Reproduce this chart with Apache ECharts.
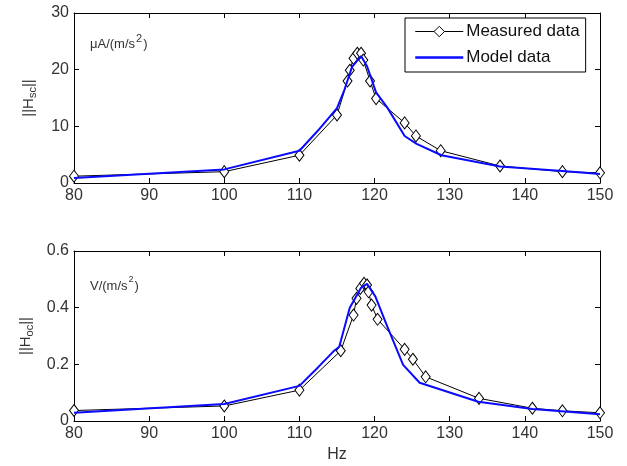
<!DOCTYPE html>
<html><head><meta charset="utf-8">
<script src="https://cdn.jsdelivr.net/npm/echarts@6/dist/echarts.min.js"></script>
<style>html,body{margin:0;padding:0;background:#fff}#c{width:627px;height:466px}</style>
</head><body><div id="c"></div>
<script>
// ---- data ----
const xTicks = [80, 90, 100, 110, 120, 130, 140, 150];
const topYTicks = [0, 10, 20, 30];
const botYTicks = [0, 0.2, 0.4, 0.6];

const hzMeasTop = [80, 100, 110, 115, 116.4, 116.7, 117.2, 117.7, 118.2, 118.5, 119.4, 120.2, 124, 125.5, 128.8, 136.7, 145, 150];
const measTop   = [1.2, 2.0, 4.9, 12.0, 18.0, 19.9, 22.0, 22.9, 22.9, 21.7, 18.0, 14.9, 10.6, 8.3, 5.7, 3.0, 2.0, 1.8];
const hzModelTop = [80, 100, 110, 112.5, 115, 116, 117, 118.2, 119, 120.2, 121.7, 124, 125.6, 128.9, 136.7, 145, 150];
const modelTop   = [0.9, 2.4, 5.7, 9.3, 13.2, 16.5, 20.5, 22.4, 20.6, 16.0, 13.3, 8.3, 6.9, 4.9, 2.9, 2.1, 1.6];

const hzMeasBot = [80, 100, 110, 115.5, 117.2, 117.6, 118.1, 118.6, 119.0, 119.2, 119.6, 120.4, 124.0, 125.1, 126.8, 133.9, 141.0, 145.0, 150];
const measBot   = [0.037, 0.053, 0.109, 0.248, 0.374, 0.433, 0.468, 0.486, 0.48, 0.456, 0.409, 0.359, 0.253, 0.218, 0.156, 0.080, 0.045, 0.036, 0.029];
const hzModelBot = [80, 100, 110, 112.5, 114.5, 115.3, 116.7, 118.2, 119.0, 120.1, 121.7, 123.8, 126.0, 133.8, 141, 150];
const modelBot   = [0.029, 0.060, 0.124, 0.19, 0.245, 0.262, 0.40, 0.47, 0.484, 0.44, 0.333, 0.198, 0.135, 0.068, 0.042, 0.024];

const zip = (a, b) => a.map((v, i) => [v, b[i]]);

const font = 'Liberation Sans, Arial, sans-serif';
const lblColor = '#333';
const lineStyle = { color: '#000', width: 1 };

function xAx(grid, pos, showLabel, name) {
  return {
    type: 'value', gridIndex: grid, position: pos, min: xTicks[0], max: xTicks[xTicks.length - 1], interval: 10,
    axisLine: { show: true, onZero: false, lineStyle },
    axisTick: { show: true, inside: true, length: 5, lineStyle },
    axisLabel: { show: showLabel, color: lblColor, fontSize: 16, fontFamily: font, margin: 5 },
    splitLine: { show: false },
    name: name || '', nameLocation: 'middle', nameGap: 26,
    nameTextStyle: { color: lblColor, fontSize: 16, fontFamily: font }
  };
}
function yAx(grid, pos, ticks, showLabel, name) {
  return {
    type: 'value', gridIndex: grid, position: pos, min: ticks[0], max: ticks[ticks.length - 1], interval: ticks[1] - ticks[0],
    axisLine: { show: true, onZero: false, lineStyle },
    axisTick: { show: true, inside: true, length: 5, lineStyle },
    axisLabel: { show: showLabel, color: lblColor, fontSize: 16, fontFamily: font, margin: 5 },
    splitLine: { show: false },
    name: name || '', nameLocation: 'middle', nameRotate: 90, nameGap: 36,
    nameTextStyle: {
      color: lblColor, fontFamily: font,
      rich: { a: { fontSize: 15, color: lblColor, fontFamily: font }, s: { fontSize: 11, color: lblColor, fontFamily: font, padding: [8, 0, 0, 0] } }
    }
  };
}

const supRich = (size) => ({
  a: { fontSize: 13, lineHeight: 18, fontFamily: font, fill: '#333', verticalAlign: 'bottom' },
  s: { fontSize: size, lineHeight: 18, fontFamily: font, fill: '#333', verticalAlign: 'top', padding: [0, 1, 0, 1] }
});

const chart = echarts.init(document.getElementById('c'));
chart.setOption({
  animation: false,
  backgroundColor: '#fff',
  grid: [
    { left: 74, top: 13, width: 526, height: 170 },
    { left: 74, top: 251, width: 526, height: 170 }
  ],
  xAxis: [
    xAx(0, 'bottom', true), xAx(0, 'top', false),
    xAx(1, 'bottom', true, 'Hz'), xAx(1, 'top', false)
  ],
  yAxis: [
    yAx(0, 'left', topYTicks, true, '{a|||H}{s|sc}{a|||}'), yAx(0, 'right', topYTicks, false),
    yAx(1, 'left', botYTicks, true, '{a|||H}{s|oc}{a|||}'), yAx(1, 'right', botYTicks, false)
  ],
  legend: {
    left: 405, top: 18, width: 187, orient: 'vertical',
    data: [
      { name: 'Measured data', lineStyle: { width: 1 }, itemStyle: { borderWidth: 1 } },
      { name: 'Model data', itemStyle: { opacity: 0 }, lineStyle: { width: 2.5 } }
    ],
    borderColor: '#000', borderWidth: 1, padding: [5, 6, 6, 9],
    itemWidth: 48, itemHeight: 13, itemGap: 9,
    textStyle: { fontSize: 17, fontFamily: font, color: '#111', padding: [0, 0, 0, -2] },
    backgroundColor: '#fff'
  },
  graphic: [
    { type: 'text', left: 90, top: 33, style: {
      text: '{a|μA/(m/s}{s|2}{a|)}', fontFamily: font, rich: supRich(11) } },
    { type: 'text', left: 90, top: 275, style: {
      text: '{a|V/(m/s}{s|2}{a|)}', fontFamily: font, rich: supRich(9) } }
  ],
  series: [
    { name: 'Measured data', type: 'line', xAxisIndex: 0, yAxisIndex: 0, data: zip(hzMeasTop, measTop),
      symbol: 'diamond', symbolSize: [9, 12], showAllSymbol: true,
      lineStyle: { color: '#000', width: 1 }, itemStyle: { color: '#fff', borderColor: '#000', borderWidth: 1 }, z: 2 },
    { name: 'Model data', type: 'line', xAxisIndex: 0, yAxisIndex: 0, data: zip(hzModelTop, modelTop),
      symbol: 'none', lineStyle: { color: '#0a0aff', width: 2 }, itemStyle: { color: '#0a0aff' }, z: 3 },
    { name: 'Measured data', type: 'line', xAxisIndex: 2, yAxisIndex: 2, data: zip(hzMeasBot, measBot),
      symbol: 'diamond', symbolSize: [9, 12], showAllSymbol: true,
      lineStyle: { color: '#000', width: 1 }, itemStyle: { color: '#fff', borderColor: '#000', borderWidth: 1 }, z: 2 },
    { name: 'Model data', type: 'line', xAxisIndex: 2, yAxisIndex: 2, data: zip(hzModelBot, modelBot),
      symbol: 'none', lineStyle: { color: '#0a0aff', width: 2 }, itemStyle: { color: '#0a0aff' }, z: 3 }
  ]
});
</script></body></html>
